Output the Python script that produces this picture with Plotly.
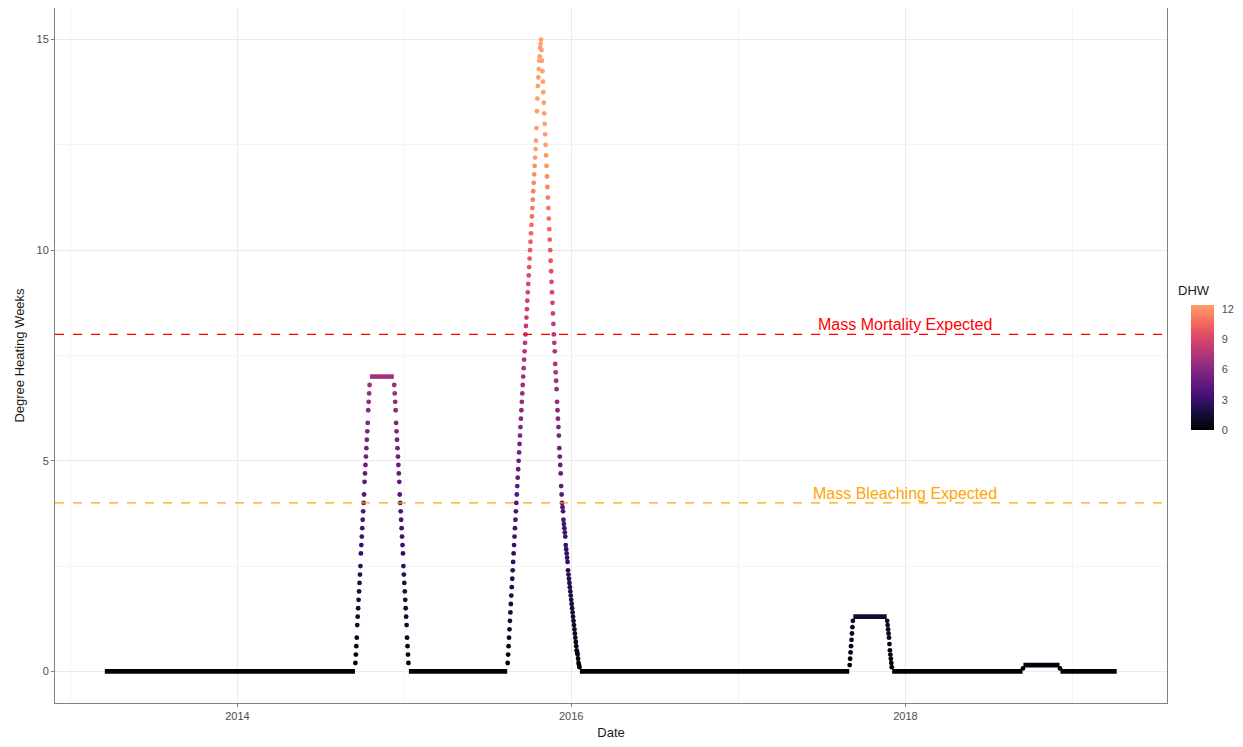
import pandas as pd
import plotly.graph_objects as go
from plotly.colors import sample_colorscale

# stretches where DHW stays flat (start, end, value)
flat_start = ['2013-03-17', '2014-10-18', '2015-01-11', '2016-01-20',
              '2017-09-09', '2017-12-03', '2018-09-16', '2018-12-06']
flat_end = ['2014-09-15', '2014-12-09', '2015-08-14', '2017-08-31',
            '2017-11-21', '2018-09-14', '2018-12-04', '2019-04-08']
flat_value = [0, 7.0, 0, 0, 1.3, 0, 0.15, 0]

# daily DHW on the rising / falling limbs of each event
rise_2014 = [0.2, 0.4, 0.6, 0.8, 1.1, 1.3, 1.5, 1.7, 1.9, 2.1, 2.3, 2.5, 2.8, 3.0, 3.2, 3.4,
             3.6, 3.8, 4.0, 4.2, 4.5, 4.7, 4.9, 5.1, 5.3, 5.5, 5.7, 5.9, 6.2, 6.4, 6.6, 6.8]
fall_2014 = [6.8, 6.6, 6.4, 6.2, 5.9, 5.7, 5.5, 5.3, 5.1, 4.9, 4.7, 4.5, 4.2, 4.0, 3.8, 3.6,
             3.4, 3.2, 3.0, 2.8, 2.5, 2.3, 2.1, 1.9, 1.7, 1.5, 1.3, 1.1, 0.8, 0.6, 0.4, 0.2]
rise_2015 = [0.2, 0.4, 0.6, 0.8, 1.0, 1.2, 1.4, 1.6, 1.8, 2.0, 2.2, 2.4, 2.6, 2.8, 3.0, 3.2,
             3.4, 3.6, 3.8, 4.0, 4.2, 4.4, 4.6, 4.8, 5.0, 5.2, 5.4, 5.6, 5.8, 6.0, 6.2, 6.4,
             6.6, 6.8, 7.0, 7.2, 7.4, 7.6, 7.8, 8.0, 8.2, 8.4, 8.6, 8.8, 9.0, 9.2, 9.4, 9.6,
             9.8, 10.0, 10.2, 10.4, 10.6, 10.8, 11.0, 11.2, 11.4, 11.6, 11.8, 12.0, 12.2, 12.4,
             12.6, 12.9, 13.3, 13.6, 13.9, 14.1, 14.3, 14.5, 14.6, 14.8, 14.9, 15.0]
fall_2015 = [14.75, 14.5, 14.25, 14.0, 13.75, 13.5, 13.25, 13.0, 12.75, 12.5, 12.25, 12.0,
             11.75, 11.5, 11.25, 11.0, 10.75, 10.5, 10.25, 10.0, 9.75, 9.5, 9.25, 9.0,
             8.75, 8.5, 8.25, 8.0,
             7.8, 7.6, 7.3, 7.1, 6.9, 6.7, 6.4, 6.2, 6.0, 5.8, 5.6, 5.3, 5.1, 4.9, 4.7, 4.4,
             4.2, 4.0,
             3.9, 3.8, 3.6, 3.5, 3.4, 3.3, 3.2, 3.0, 2.9, 2.8, 2.7, 2.6, 2.4, 2.3, 2.2,
             2.1, 2.0, 1.9, 1.8, 1.7, 1.6, 1.5, 1.4, 1.3, 1.2, 1.1, 1.0, 0.9, 0.8, 0.7, 0.6,
             0.5, 0.45, 0.4, 0.3, 0.2, 0.15, 0.1]
rise_2017 = [0.15, 0.3, 0.45, 0.6, 0.75, 0.9, 1.05, 1.2]
fall_2017 = [1.2, 1.1, 1.0, 0.9, 0.8, 0.65, 0.5, 0.4, 0.3, 0.2, 0.1]
rise_2018 = [0.07]
fall_2018 = [0.07]
ramp_start = ['2014-09-16', '2014-12-10', '2015-08-15', '2015-10-28',
              '2017-09-01', '2017-11-22', '2018-09-15', '2018-12-05']
ramps = [rise_2014, fall_2014, rise_2015, fall_2015, rise_2017, fall_2017, rise_2018, fall_2018]

thresholds = [8, 4]
threshold_labels = ['Mass Mortality Expected', 'Mass Bleaching Expected']
threshold_colors = ['#FF0000', '#FFA500']

# magma, cut off before the pale end (like the reference legend)
magma_cut = [[0.0, '#000004'], [0.125, '#140e36'], [0.25, '#3b0f70'], [0.375, '#641a80'],
             [0.5, '#8c2981'], [0.625, '#b73779'], [0.75, '#de4968'], [0.875, '#f7705c'],
             [1.0, '#fe9f6d']]
cmax = 12.4

# page body has an 8px margin, so the figure is a bit smaller than the window
W, H = 1235, 739

fig = go.Figure()

# flat parts: dense dots merge into a solid band, so draw them as thick lines
for s, e, v in zip(flat_start, flat_end, flat_value):
    col = sample_colorscale(magma_cut, [min(v / cmax, 1)])[0]
    fig.add_trace(go.Scatter(x=[s, e], y=[v, v], mode='lines',
                             line=dict(color=col, width=4.6),
                             showlegend=False, hoverinfo='skip'))

ramp_x, ramp_y = [], []
for s, vals in zip(ramp_start, ramps):
    ramp_x += list(pd.date_range(s, periods=len(vals), freq='D'))
    ramp_y += vals

fig.add_trace(go.Scatter(
    x=ramp_x, y=ramp_y, mode='markers', showlegend=False,
    marker=dict(size=4.8, color=ramp_y, colorscale=magma_cut, cmin=0, cmax=cmax,
                line=dict(width=0),
                colorbar=dict(
                    tickvals=[0, 3, 6, 9, 12], ticks='outside',
                    tickcolor='rgba(0,0,0,0)', ticklen=6,
                    tickfont=dict(size=11, color='#4D4D4D'),
                    thickness=23, len=125, lenmode='pixels', outlinewidth=0,
                    x=1.0216, xanchor='left', xpad=0,
                    y=0.3928, yanchor='bottom', ypad=0)),
))

# legend title
fig.add_annotation(xref='paper', yref='paper', x=1.008, y=0.593, xanchor='left',
                   yanchor='middle', text='DHW', showarrow=False,
                   font=dict(size=13, color='#1a1a1a'))

for yv, lab, col in zip(thresholds, threshold_labels, threshold_colors):
    fig.add_shape(type='line', xref='paper', x0=0, x1=1, y0=yv, y1=yv,
                  line=dict(color=col, width=1.2, dash='dash'))
    fig.add_annotation(x='2018-01-01', y=yv + 0.23, text=lab, showarrow=False,
                       font=dict(size=16, color=col))

axis_common = dict(showline=True, linecolor='#808080', linewidth=1, mirror=True,
                   ticks='outside', ticklen=3, tickcolor='#808080',
                   gridcolor='#EBEBEB', gridwidth=1, zeroline=False,
                   tickfont=dict(size=11, color='#4D4D4D'))

fig.update_layout(
    width=W, height=H,
    margin=dict(l=47, r=76, t=0, b=44),
    plot_bgcolor='white', paper_bgcolor='white',
    font=dict(family='Liberation Sans, Arial, sans-serif', color='#1a1a1a'),
    xaxis=dict(type='date', range=['2012-11-28', '2019-07-27'],
               tickvals=['2014-01-01', '2016-01-01', '2018-01-01'],
               ticktext=['2014', '2016', '2018'],
               minor=dict(tickvals=['2013-01-01', '2015-01-01', '2017-01-01', '2019-01-01'],
                          showgrid=True, gridcolor='#F4F4F4', ticks=''),
               title=dict(text='Date', font=dict(size=13), standoff=6),
               **axis_common),
    yaxis=dict(range=[-0.75, 15.75], tickvals=[0, 5, 10, 15],
               minor=dict(tickvals=[2.5, 7.5, 12.5], showgrid=True,
                          gridcolor='#F4F4F4', ticks=''),
               title=dict(text='Degree Heating Weeks', font=dict(size=13), standoff=8),
               **axis_common),
)

fig.write_html("out.html")
